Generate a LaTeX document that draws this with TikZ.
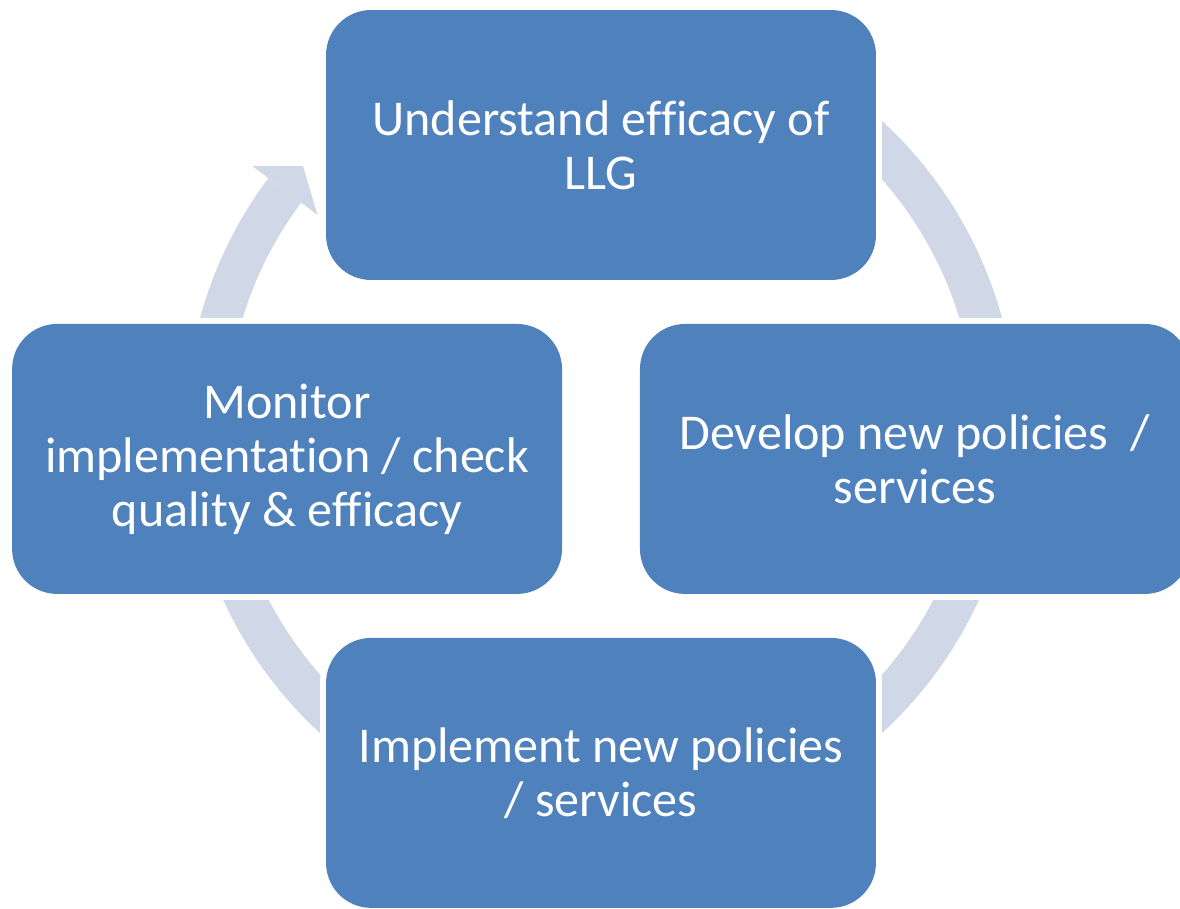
\documentclass[tikz,border=0pt]{standalone}
\usepackage{fontspec}
\setmainfont{Carlito}[Ligatures=NoCommon]
\usetikzlibrary{positioning, calc}

\definecolor{boxblue}{HTML}{4F81BD}
\definecolor{ringblue}{HTML}{D0D8E8}

\begin{document}
\begin{tikzpicture}[x=0.02cm, y=-0.02cm,
		box/.style={rectangle, rounded corners=0.9cm, fill=boxblue, preaction={draw=white, line width=0.24cm},
			minimum width=11cm, minimum height=5.4cm, text=white, align=center,
			font=\fontsize{28.5}{30.8}\selectfont},
		ring/.style={draw=ringblue, line width=0.82cm},
		ringhead/.style={fill=ringblue}]
			\useasboundingbox (0,0) rectangle (1180,909);
			\coordinate (hub) at (601,427);
			
			\draw[ring] (hub) ++(-80:395) arc[start angle=-80, end angle=216.8, radius=395];
			\fill[ringhead] ($(hub)+(216.8:436)$) -- ($(hub)+(221.2:396)$) -- ($(hub)+(216.8:354)$) -- cycle;
			
			\node[box] (llg) at (601,145) {Understand efficacy of\\LLG};
			\node[box, on grid] (develop) [below right = 6.28cm and 6.28cm of llg] {Develop new policies\ \ /\\services};
			\node[box, on grid] (implement) [below = 12.56cm of llg] {Implement new policies\\/ services};
			\node[box, on grid] (monitor) [below left = 6.28cm and 6.28cm of llg] {Monitor\\implementation / check\\quality \& efficacy};
			\end{tikzpicture}
\end{document}
